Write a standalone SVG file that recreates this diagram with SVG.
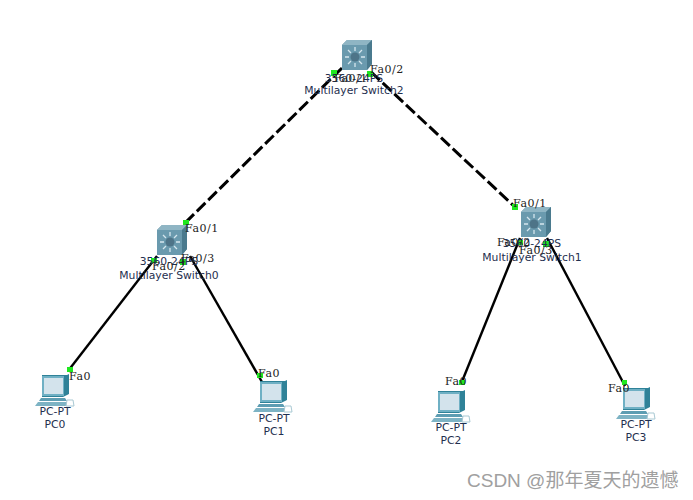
<svg xmlns="http://www.w3.org/2000/svg" width="693" height="500" viewBox="0 0 693 500">
<style>
.n{font-family:"DejaVu Sans",sans-serif;font-size:10.8px;fill:#1f2f4f;text-anchor:middle}
.p{font-family:"DejaVu Serif",serif;font-size:11px;fill:#222;letter-spacing:.5px}
.w{font-family:"Liberation Sans","Noto Sans CJK SC",sans-serif;font-size:19px;fill:#a0a0a0}
.d{stroke:#000;stroke-width:3;stroke-dasharray:12 4;fill:none}
.s{stroke:#000;stroke-width:2.4;fill:none}
.g{fill:#1fe81f}
</style>
<defs>
<g id="sw">
<path d="M0 5 L5 0 H30 V24 L25 30 H0Z" fill="#5f8fa3"/>
<path d="M0 5 L5 0 H30 L25 5Z" fill="#8fb5c4"/>
<path d="M25 5 L30 0 V24 L25 30Z" fill="#4a7a8e"/>
<rect x="0" y="5" width="25" height="25" fill="#6a9aae"/>
<circle cx="13" cy="17" r="4.5" fill="#4e7488"/>
<path d="M13 7V11M13 23V27M3 17H7M19 17H23M6 10L9 13M20 10L17 13M6 24L9 21M20 24L17 21" stroke="#d5e6ee" stroke-width="1.3" fill="none"/>
</g>
<g id="pc">
<path d="M5 0 H30 L32 -1 V19 L26 22 H5Z" fill="#2f8298"/>
<path d="M5 1 H27 V21 H5Z" fill="#6fb0c4"/>
<rect x="7" y="3" width="19" height="16" fill="#d3e3ec"/>
<path d="M4 23 H28 L30 26 H2Z" fill="#5d9db2"/>
<path d="M1 27 H30 L29 31 H-2Z" fill="#7db3c4"/>
<path d="M30 25 H36 L37 31 H29Z" fill="none" stroke="#a9c9d3"/>
</g>
</defs>
<rect width="693" height="500" fill="#fff"/>
<g id="connectors">
<path class="d" d="M342 68 L185 223"/>
<path class="d" d="M371 72 L515 207"/>
<path class="s" d="M157 256 L68 371"/>
<path class="s" d="M190 256 L262 382"/>
<path class="s" d="M520 238 L461 384"/>
<path class="s" d="M547 238 L625 386"/>
<g class="g">
<rect x="331" y="70" width="6" height="6"/><rect x="367" y="71" width="6" height="6"/>
<rect x="183" y="220" width="6" height="5"/><rect x="151" y="258" width="6" height="5"/><rect x="180" y="259" width="6" height="6"/>
<rect x="512" y="204" width="6" height="6"/><rect x="518" y="240" width="5" height="5"/><rect x="543" y="241" width="6" height="6"/>
<rect x="67" y="367" width="6" height="5"/><rect x="257" y="373" width="6" height="5"/><rect x="459" y="380" width="6" height="5"/><rect x="622" y="380" width="5" height="5"/>
</g>
</g>
<g id="switch2"><use href="#sw" x="342" y="40"/><text class="n" x="354" y="82">3560-24PS</text><text class="n" x="354" y="94">Multilayer Switch2</text></g>
<g id="switch0"><use href="#sw" x="157" y="225"/><text class="n" x="169" y="265">3560-24PS</text><text class="n" x="169" y="279">Multilayer Switch0</text></g>
<g id="switch1"><use href="#sw" x="521" y="207"/><text class="n" x="532" y="247">3560-24PS</text><text class="n" x="532" y="261">Multilayer Switch1</text></g>
<g id="pc0"><use href="#pc" x="37" y="375"/><text class="n" x="55" y="415">PC-PT</text><text class="n" x="55" y="428">PC0</text></g>
<g id="pc1"><use href="#pc" x="255" y="381"/><text class="n" x="274" y="422">PC-PT</text><text class="n" x="274" y="435">PC1</text></g>
<g id="pc2"><use href="#pc" x="433" y="391"/><text class="n" x="451" y="431">PC-PT</text><text class="n" x="451" y="444">PC2</text></g>
<g id="pc3"><use href="#pc" x="618" y="388"/><text class="n" x="636" y="428">PC-PT</text><text class="n" x="636" y="441">PC3</text></g>
<g id="ports">
<text class="p" x="334" y="82">Fa0/1</text><text class="p" x="370" y="73">Fa0/2</text>
<text class="p" x="185" y="232">Fa0/1</text><text class="p" x="152" y="270">Fa0/2</text><text class="p" x="181" y="262">Fa0/3</text>
<text class="p" x="513" y="207">Fa0/1</text><text class="p" x="497" y="246">Fa0/2</text><text class="p" x="519" y="254">Fa0/3</text>
<text class="p" x="69" y="380">Fa0</text><text class="p" x="258" y="377">Fa0</text><text class="p" x="445" y="385">Fa0</text><text class="p" x="608" y="392">Fa0</text>
</g>
<text class="w" x="467" y="487">CSDN @那年夏天的遗憾</text>
</svg>
